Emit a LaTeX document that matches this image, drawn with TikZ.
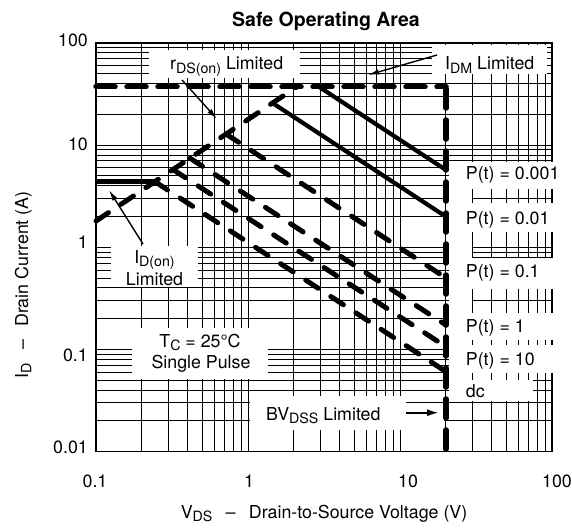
\documentclass[tikz,border=0pt]{standalone}
\usepackage{fontspec}
\setmainfont{TeX Gyre Heros}
\usetikzlibrary{arrows.meta}
\newcommand{\lsub}[1]{\raisebox{-0.35ex}{\fontsize{14.2}{15}\selectfont #1}}
\begin{document}
\begin{tikzpicture}[x=1pt,y=-1pt,
  gridline/.style={line width=0.95pt},
  frame/.style={line width=1.5pt},
  solidcurve/.style={line width=4.2pt},
  dashcurve/.style={line width=5pt, dash pattern=on 15pt off 15pt, line cap=round},
  heavydash/.style={line width=5.5pt, dash pattern=on 19pt off 12pt, line cap=round},
  lbl/.style={font=\fontsize{17.8}{20}\selectfont, inner sep=0pt},
  ttl/.style={font=\fontsize{19.5}{22}\selectfont\bfseries, inner sep=0pt},
  pointer/.style={line width=1.4pt, -{Latex[length=11pt,width=5.5pt]}},
  blank/.style={fill=white}
]
\useasboundingbox (0,0) rectangle (572,527);
% grid
\foreach \d in {0,1,2} {
  \foreach \m in {1,...,9} {
    \pgfmathsetmacro\xx{96+152*(\d+log10(\m))}
    \draw[gridline] (\xx,42.9) -- (\xx,451.7);
  }
}
\foreach \d in {0,1,2,3} {
  \foreach \m in {1,...,9} {
    \pgfmathsetmacro\yy{451.7-102.2*(\d+log10(\m))}
    \draw[gridline] (96,\yy) -- (552,\yy);
  }
}
\draw[frame] (96,42.9) rectangle (552,451.7);
% white label areas
\fill[blank] (149,50) rectangle (300,78);
\fill[blank] (432,45) rectangle (547,74);
\fill[blank] (111,245.5) rectangle (198,286.5);
\fill[blank] (132,328) rectangle (268,379);
\fill[blank] (250,396) rectangle (406,430);
\fill[blank] (406,406) rectangle (444,430);
\fill[blank] (449,162) rectangle (472,401);
\fill[blank] (449,162) rectangle (562,189);
\fill[blank] (449,203) rectangle (562,232);
\fill[blank] (449,258) rectangle (562,289);
\fill[blank] (449,313) rectangle (562,340);
\fill[blank] (449,345) rectangle (562,373);
\fill[blank] (449,380) rectangle (533,401);
% key points
\coordinate (idmL) at (96,86.7);
\coordinate (idmR) at (446,86.7);
\coordinate (bvTop) at (446,89);
\coordinate (bvBot) at (446,451.7);
\coordinate (rdsL) at (96,221);
\coordinate (rdsR) at (297,86.7);
\coordinate (idonL) at (96,181.7);
\coordinate (knee) at (155,181.7);
\coordinate (p3a) at (318.8,86.7);  \coordinate (p3b) at (446,170);
\coordinate (p2a) at (272.5,103);   \coordinate (p2b) at (446,216.7);
\coordinate (p1a) at (226,134);     \coordinate (p1b) at (446,278);
\coordinate (p0a) at (190,158.2);   \coordinate (p0b) at (446,325);
\coordinate (pTa) at (173,169.6);   \coordinate (pTb) at (446,346.7);
\coordinate (dcb) at (446,371.7);
% curves
\draw[heavydash] (idmL) -- (idmR);
\draw[heavydash] (bvTop) -- (bvBot);
\draw[dashcurve] (rdsL) -- (rdsR);
\draw[line width=5pt] (idonL) -- (knee);
\draw[solidcurve] (p3a) -- (p3b);
\draw[solidcurve] (p2a) -- (p2b);
\draw[dashcurve] (p1a) -- (p1b);
\draw[dashcurve] (p0a) -- (p0b);
\draw[dashcurve] (pTa) -- (pTb);
\draw[dashcurve] (knee) -- (dcb);
% title
\node[ttl, anchor=base] (title) at (326,26.5) {Safe Operating Area};
% y ticks
\node[lbl, anchor=base east] (y100) at (88,46.5) {100};
\node[lbl, anchor=base east] (y10) at (88,150) {10};
\node[lbl, anchor=base east] (y1) at (88,248.5) {1};
\node[lbl, anchor=base east] (y01) at (88,361.5) {0.1};
\node[lbl, anchor=base east] (y001) at (88,453) {0.01};
% x ticks
\node[lbl, anchor=base] (x01) at (95,487) {0.1};
\node[lbl, anchor=base] (x1) at (249,487) {1};
\node[lbl, anchor=base] (x10) at (408,487) {10};
\node[lbl, anchor=base] (x100) at (557,487) {100};
% axis titles
\node[lbl, anchor=base] (xtitle) at (324,518) {V\lsub{DS}\hspace{0.75em}–\hspace{0.75em}Drain-to-Source Voltage (V)};
\node[lbl, anchor=base, rotate=90] (ytitle) at (28,285) {I\lsub{D}\hspace{0.75em}–\hspace{0.75em}Drain Current (A)};
% labels
\node[lbl, anchor=base west] (rdsLabel) at (170,70) {r\lsub{DS(on)} Limited};
\node[lbl, anchor=base west] (idmLabel) at (445,70) {I\lsub{DM} Limited};
\node[lbl, anchor=base] (idonA) at (154.5,263) {I\lsub{D(on)}};
\node[lbl, anchor=base] (idonB) at (154.5,285) {Limited};
\node[lbl, anchor=base] (tcA) at (200,347) {T\lsub{C} = 25°C};
\node[lbl, anchor=base] (tcB) at (201,368) {Single Pulse};
\node[lbl, anchor=base west] (bvLabel) at (266,420) {BV\lsub{DSS} Limited};
\node[lbl, anchor=base west] (pt3) at (465.7,179) {P(t) = 0.001};
\node[lbl, anchor=base west] (pt2) at (465.7,224) {P(t) = 0.01};
\node[lbl, anchor=base west] (pt1) at (465.7,277) {P(t) = 0.1};
\node[lbl, anchor=base west] (pt0) at (465.7,332) {P(t) = 1};
\node[lbl, anchor=base west] (ptT) at (465.7,365) {P(t) = 10};
\node[lbl, anchor=base west] (ptdc) at (465.7,397) {dc};
% pointers
\coordinate (rdsTail) at (182,80);   \coordinate (rdsTip) at (217,119);
\coordinate (idmTail) at (437,55);   \coordinate (idmTip) at (368,75);
\coordinate (idonTail) at (143,244); \coordinate (idonTip) at (109,190);
\coordinate (bvTail) at (406,412.7); \coordinate (bvTip) at (439,412.7);
\draw[pointer] (rdsTail) -- (rdsTip);
\draw[pointer] (idmTail) -- (idmTip);
\draw[pointer] (idonTail) -- (idonTip);
\draw[line width=1.9pt, -{Latex[length=12pt,width=7pt]}] (bvTail) -- (bvTip);
\end{tikzpicture}
\end{document}
